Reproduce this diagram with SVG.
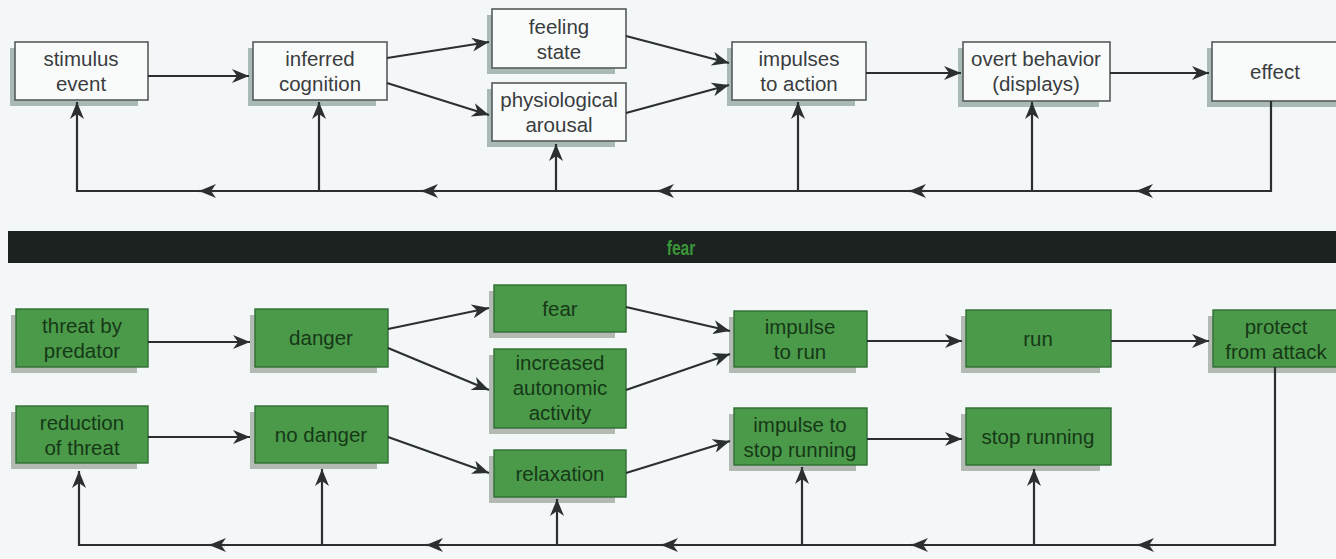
<svg xmlns="http://www.w3.org/2000/svg" width="1336" height="559" viewBox="0 0 1336 559">
<defs>
<marker id="ah" markerUnits="userSpaceOnUse" markerWidth="18" markerHeight="14" refX="17" refY="7" orient="auto">
<path d="M0,0 L17,7 L0,14 L5,7 Z" fill="#2b2f31"/>
</marker>
</defs>
<style>
.bg{fill:#f3f7f8}
.sh{fill:#a9bab6}
.shg{fill:#b3bab4}
.wb{fill:#f9fbfb;stroke:#555a5c;stroke-width:1.6}
.gb{fill:#4a9a4a;stroke:#2f6d32;stroke-width:1.4}
.t{font-family:"Liberation Sans",Arial,sans-serif;font-size:20.5px;text-anchor:middle;fill:#3a3d3f}
.tg{font-family:"Liberation Sans",Arial,sans-serif;font-size:20.5px;text-anchor:middle;fill:#163816}
.ca{fill:none;stroke:#2b2f31;stroke-width:2.2;marker-end:url(#ah)}
</style>
<rect class="bg" x="0" y="0" width="1336" height="559"/>

<!-- band -->
<g id="band">
<rect x="8" y="231" width="1328" height="32" fill="#1b2220"/>
<text x="0" y="0" transform="translate(681,255) scale(0.8,1)" font-family="Liberation Sans,Arial,sans-serif" font-size="19.5" font-weight="bold" text-anchor="middle" fill="#3a9638">fear</text>
</g>

<!-- top nodes -->
<g id="stimulus"><rect class="sh" x="10" y="48" width="128" height="58"/><rect class="wb" x="15" y="42" width="133" height="58"/><text class="t" x="81" y="66">stimulus</text><text class="t" x="81" y="91">event</text></g>
<g id="inferred"><rect class="sh" x="248" y="48" width="128" height="58"/><rect class="wb" x="253" y="42" width="134" height="58"/><text class="t" x="320" y="66">inferred</text><text class="t" x="320" y="91">cognition</text></g>
<g id="feeling"><rect class="sh" x="487" y="15" width="128" height="59"/><rect class="wb" x="492" y="9" width="134" height="59"/><text class="t" x="559" y="34">feeling</text><text class="t" x="559" y="59">state</text></g>
<g id="physio"><rect class="sh" x="487" y="89" width="128" height="58"/><rect class="wb" x="492" y="83" width="134" height="58"/><text class="t" x="559" y="107">physiological</text><text class="t" x="559" y="132">arousal</text></g>
<g id="impulses"><rect class="sh" x="727" y="48" width="128" height="58"/><rect class="wb" x="732" y="42" width="134" height="58"/><text class="t" x="799" y="66">impulses</text><text class="t" x="799" y="91">to action</text></g>
<g id="overt"><rect class="sh" x="958" y="48" width="141" height="59"/><rect class="wb" x="963" y="42" width="147" height="59"/><text class="t" x="1036" y="66">overt behavior</text><text class="t" x="1036" y="91">(displays)</text></g>
<g id="effect"><rect class="sh" x="1207" y="48" width="130" height="59"/><rect class="wb" x="1212" y="42" width="134" height="59"/><text class="t" x="1275" y="79">effect</text></g>

<!-- bottom nodes -->
<g id="threat"><rect class="shg" x="11" y="315" width="126" height="58"/><rect class="gb" x="16" y="309" width="132" height="58"/><text class="tg" x="82" y="333">threat by</text><text class="tg" x="82" y="358">predator</text></g>
<g id="danger"><rect class="shg" x="250" y="315" width="127" height="58"/><rect class="gb" x="255" y="309" width="133" height="58"/><text class="tg" x="321" y="345">danger</text></g>
<g id="reduction"><rect class="shg" x="11" y="412" width="126" height="57"/><rect class="gb" x="16" y="406" width="132" height="57"/><text class="tg" x="82" y="430">reduction</text><text class="tg" x="82" y="455">of threat</text></g>
<g id="nodanger"><rect class="shg" x="250" y="412" width="127" height="57"/><rect class="gb" x="255" y="406" width="133" height="57"/><text class="tg" x="321" y="442">no danger</text></g>
<g id="fear"><rect class="shg" x="489" y="291" width="126" height="47"/><rect class="gb" x="494" y="285" width="132" height="47"/><text class="tg" x="560" y="316">fear</text></g>
<g id="increased"><rect class="shg" x="489" y="355" width="126" height="79"/><rect class="gb" x="494" y="349" width="132" height="79"/><text class="tg" x="560" y="370">increased</text><text class="tg" x="560" y="395">autonomic</text><text class="tg" x="560" y="420">activity</text></g>
<g id="relaxation"><rect class="shg" x="489" y="456" width="126" height="47"/><rect class="gb" x="494" y="450" width="132" height="47"/><text class="tg" x="560" y="481">relaxation</text></g>
<g id="impulserun"><rect class="shg" x="729" y="317" width="127" height="56"/><rect class="gb" x="734" y="311" width="133" height="56"/><text class="tg" x="800" y="334">impulse</text><text class="tg" x="800" y="359">to run</text></g>
<g id="impulsestop"><rect class="shg" x="729" y="414" width="127" height="57"/><rect class="gb" x="734" y="408" width="133" height="57"/><text class="tg" x="800" y="432">impulse to</text><text class="tg" x="800" y="457">stop running</text></g>
<g id="run"><rect class="shg" x="961" y="316" width="139" height="57"/><rect class="gb" x="966" y="310" width="145" height="57"/><text class="tg" x="1038" y="346">run</text></g>
<g id="stoprunning"><rect class="shg" x="961" y="414" width="139" height="57"/><rect class="gb" x="966" y="408" width="145" height="57"/><text class="tg" x="1038" y="444">stop running</text></g>
<g id="protect"><rect class="shg" x="1208" y="316" width="130" height="57"/><rect class="gb" x="1213" y="310" width="134" height="57"/><text class="tg" x="1276" y="334">protect</text><text class="tg" x="1276" y="359">from attack</text></g>

<!-- connectors -->
<g id="connectors">
<path class="ca" d="M148,76 H249"/>
<path class="ca" d="M387,58 L489,42"/>
<path class="ca" d="M387,83 L489,115"/>
<path class="ca" d="M626,36 L729,63"/>
<path class="ca" d="M626,113 L729,85"/>
<path class="ca" d="M866,73 H961"/>
<path class="ca" d="M1110,73 H1209"/>
<path class="ca" d="M1271,101 V191 H77 V102"/>
<path class="ca" d="M1032,191 V102"/>
<path class="ca" d="M798,191 V102"/>
<path class="ca" d="M556,191 V144"/>
<path class="ca" d="M319,191 V102"/>
<path class="ca" d="M1152,191 H1136"/>
<path class="ca" d="M925,191 H909"/>
<path class="ca" d="M673,191 H657"/>
<path class="ca" d="M437,191 H421"/>
<path class="ca" d="M215,191 H199"/>
<path class="ca" d="M148,342 H250"/>
<path class="ca" d="M148,437 H250"/>
<path class="ca" d="M388,329 L489,308"/>
<path class="ca" d="M388,348 L489,390"/>
<path class="ca" d="M388,437 L489,473"/>
<path class="ca" d="M626,307 L730,331"/>
<path class="ca" d="M626,390 L730,354"/>
<path class="ca" d="M626,473 L730,441"/>
<path class="ca" d="M867,341 H962"/>
<path class="ca" d="M867,439 H962"/>
<path class="ca" d="M1111,341 H1209"/>
<path class="ca" d="M1275,367 V545 H79 V471"/>
<path class="ca" d="M1034,545 V469"/>
<path class="ca" d="M802,545 V467"/>
<path class="ca" d="M557,545 V499"/>
<path class="ca" d="M322,545 V469"/>
<path class="ca" d="M1153,545 H1137"/>
<path class="ca" d="M927,545 H911"/>
<path class="ca" d="M677,545 H661"/>
<path class="ca" d="M442,545 H426"/>
<path class="ca" d="M225,545 H209"/>
</g>
</svg>
